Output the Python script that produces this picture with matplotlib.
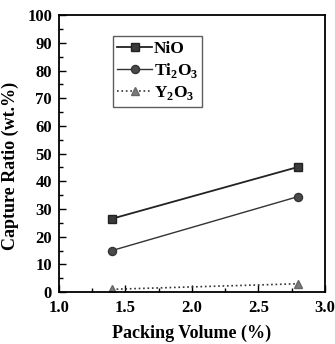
import matplotlib
matplotlib.use("Agg")
import matplotlib.pyplot as plt
from matplotlib.ticker import MultipleLocator

plt.rcParams['font.family'] = ['Liberation Serif', 'DejaVu Serif']
plt.rcParams['font.weight'] = 'bold'
plt.rcParams['mathtext.fontset'] = 'custom'
plt.rcParams['mathtext.rm'] = 'Liberation Serif:bold'
plt.rcParams['mathtext.bf'] = 'Liberation Serif:bold'

packing = [1.4, 2.8]
nio = [26.5, 45.2]
ti2o3 = [15.0, 34.5]
y2o3 = [1.0, 3.0]

fig = plt.figure(figsize=(3.35, 3.44), dpi=100)
ax = fig.add_axes([0.176, 0.151, 0.794, 0.805])

ax.plot(packing, nio, '-', color='#222222', lw=1.3, marker='s', ms=5.2,
        mfc='#3a3a3a', mec='#222222', label='NiO')
ax.plot(packing, ti2o3, '-', color='#333333', lw=1.0, marker='o', ms=5.8,
        mfc='#4a4a4a', mec='#333333', label=r'Ti$_\mathregular{2}$O$_\mathregular{3}$')
ax.plot(packing, y2o3, ':', color='#333333', lw=1.2, marker='^', ms=6,
        mfc='#7a7a7a', mec='#666666', label=r'Y$_\mathregular{2}$O$_\mathregular{3}$')

ax.set_xlim(1.0, 3.0)
ax.set_ylim(0, 100)
ax.xaxis.set_major_locator(MultipleLocator(0.5))
ax.xaxis.set_minor_locator(MultipleLocator(0.25))
ax.yaxis.set_major_locator(MultipleLocator(10))
ax.yaxis.set_minor_locator(MultipleLocator(5))
ax.tick_params(which='both', direction='in', labelsize=12, width=1.0)
ax.tick_params(axis='x', pad=6)
ax.tick_params(axis='y', pad=5)
ax.tick_params(which='major', length=5)
ax.tick_params(which='minor', length=3)
for s in ax.spines.values():
    s.set_linewidth(1.3)
for lab in ax.get_xticklabels() + ax.get_yticklabels():
    lab.set_fontweight('bold')

ax.set_xlabel('Packing Volume (%)', fontsize=13, fontweight='bold', labelpad=6)
ax.set_ylabel('Capture Ratio (wt.%)', fontsize=13, fontweight='bold')
ax.yaxis.set_label_coords(-0.15, 0.455)

leg = ax.legend(loc='upper left', bbox_to_anchor=(0.17, 0.955), fontsize=12.5,
                frameon=True, fancybox=False, edgecolor='#333333',
                handlelength=2.0, handletextpad=0.1, borderpad=0.25, labelspacing=0.25)
leg.get_frame().set_linewidth(1.0)
for t in leg.get_texts():
    t.set_fontweight('bold')

fig.savefig('out.png', dpi=100)
